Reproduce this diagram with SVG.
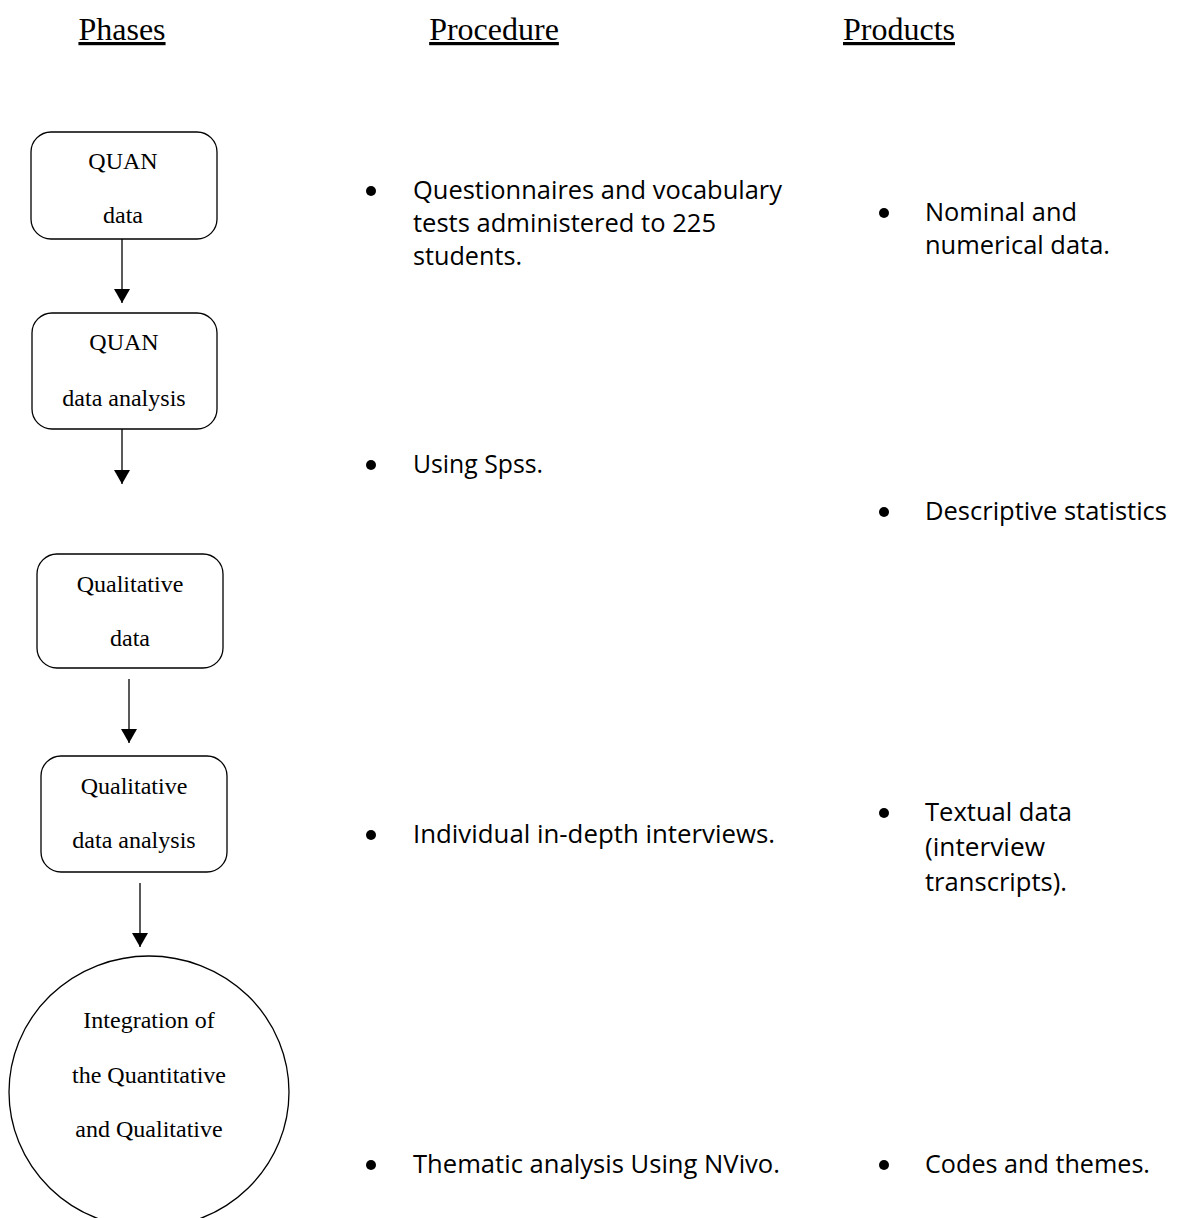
<svg xmlns="http://www.w3.org/2000/svg" width="1184" height="1218" viewBox="0 0 1184 1218">
<defs>
<style>
.hdr{font-family:"Liberation Serif","Times New Roman",serif;font-size:32px;fill:#000;text-anchor:middle;text-decoration:underline}
.nt{font-family:"Liberation Serif","Times New Roman",serif;font-size:24px;fill:#000;text-anchor:middle}
.bt{font-family:"Open Sans","Noto Sans",sans-serif;font-size:25px;fill:#000}
.box{fill:#fff;stroke:#000;stroke-width:1.3}
.edge{stroke:#000;stroke-width:1.3;fill:none}
.bul{fill:#000}
</style>
<marker id="ah" markerUnits="userSpaceOnUse" markerWidth="16" markerHeight="16" refX="14" refY="8" orient="auto">
<path d="M0,0 L14,8 L0,16 Z" fill="#000"/>
</marker>
</defs>
<rect width="1184" height="1218" fill="#fff"/>

<g id="headers">
<text class="hdr" x="122" y="40">Phases</text>
<text class="hdr" x="494" y="40">Procedure</text>
<text class="hdr" x="899" y="40">Products</text>
</g>

<g id="connectors">
<line class="edge" x1="122" y1="239" x2="122" y2="303" marker-end="url(#ah)"/>
<line class="edge" x1="122" y1="429" x2="122" y2="484" marker-end="url(#ah)"/>
<line class="edge" x1="129" y1="679" x2="129" y2="743" marker-end="url(#ah)"/>
<line class="edge" x1="140" y1="883" x2="140" y2="947" marker-end="url(#ah)"/>
</g>

<g id="quan-data">
<rect class="box" x="31" y="132" width="186" height="107" rx="20"/>
<text class="nt" x="123" y="169">QUAN</text>
<text class="nt" x="123" y="223">data</text>
</g>

<g id="quan-analysis">
<rect class="box" x="32" y="313" width="185" height="116" rx="20"/>
<text class="nt" x="124" y="350">QUAN</text>
<text class="nt" x="124" y="406">data analysis</text>
</g>

<g id="qual-data">
<rect class="box" x="37" y="554" width="186" height="114" rx="20"/>
<text class="nt" x="130" y="592">Qualitative</text>
<text class="nt" x="130" y="646">data</text>
</g>

<g id="qual-analysis">
<rect class="box" x="41" y="756" width="186" height="116" rx="20"/>
<text class="nt" x="134" y="794">Qualitative</text>
<text class="nt" x="134" y="848">data analysis</text>
</g>

<g id="integration">
<ellipse class="box" cx="149" cy="1092" rx="140" ry="136"/>
<text class="nt" x="149" y="1028">Integration of</text>
<text class="nt" x="149" y="1083">the Quantitative</text>
<text class="nt" x="149" y="1137">and Qualitative</text>
</g>

<g id="procedure">
<circle class="bul" cx="371" cy="191" r="5"/>
<text class="bt" x="413" y="199" textLength="369" lengthAdjust="spacingAndGlyphs">Questionnaires and vocabulary</text>
<text class="bt" x="413" y="232" textLength="303" lengthAdjust="spacingAndGlyphs">tests administered to 225</text>
<text class="bt" x="413" y="265" textLength="109" lengthAdjust="spacingAndGlyphs">students.</text>

<circle class="bul" cx="371" cy="465" r="5"/>
<text class="bt" x="413" y="473" textLength="130" lengthAdjust="spacingAndGlyphs">Using Spss.</text>

<circle class="bul" cx="371" cy="835" r="5"/>
<text class="bt" x="413" y="843" textLength="362" lengthAdjust="spacingAndGlyphs">Individual in-depth interviews.</text>

<circle class="bul" cx="371" cy="1165" r="5"/>
<text class="bt" x="413" y="1173" textLength="367" lengthAdjust="spacingAndGlyphs">Thematic analysis Using NVivo.</text>
</g>

<g id="products">
<circle class="bul" cx="884" cy="213" r="5"/>
<text class="bt" x="925" y="221" textLength="152" lengthAdjust="spacingAndGlyphs">Nominal and</text>
<text class="bt" x="925" y="254" textLength="185" lengthAdjust="spacingAndGlyphs">numerical data.</text>

<circle class="bul" cx="884" cy="512" r="5"/>
<text class="bt" x="925" y="520" textLength="242" lengthAdjust="spacingAndGlyphs">Descriptive statistics</text>

<circle class="bul" cx="884" cy="813" r="5"/>
<text class="bt" x="925" y="821" textLength="147" lengthAdjust="spacingAndGlyphs">Textual data</text>
<text class="bt" x="925" y="856" textLength="120" lengthAdjust="spacingAndGlyphs">(interview</text>
<text class="bt" x="925" y="891" textLength="142" lengthAdjust="spacingAndGlyphs">transcripts).</text>

<circle class="bul" cx="884" cy="1165" r="5"/>
<text class="bt" x="925" y="1173" textLength="225" lengthAdjust="spacingAndGlyphs">Codes and themes.</text>
</g>
</svg>
